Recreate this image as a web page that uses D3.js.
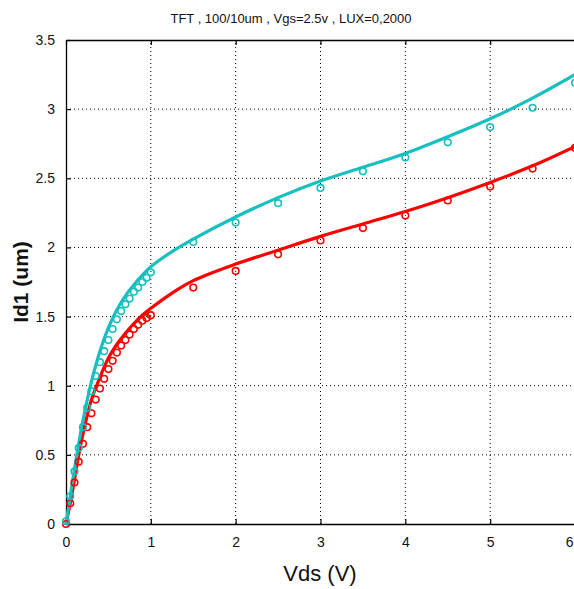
<!DOCTYPE html>
<html>
<head>
<meta charset="utf-8">
<script src="https://cdn.jsdelivr.net/npm/d3@7"></script>
<style>
  body { margin: 0; background: #fff; }
  text { font-family: "Liberation Sans", Arial, sans-serif; }
</style>
</head>
<body>
<div id="chart"></div>
<script>
// fitted curves (lines)
const lineVds = [0, 0.05, 0.1, 0.15, 0.2, 0.3, 0.4, 0.5, 0.6, 0.7, 0.8, 0.9, 1.0, 1.25, 1.5, 2, 2.5, 3, 3.5, 4, 4.5, 5, 5.5, 6];
const lineCyan = [0, 0.2, 0.4, 0.58, 0.75, 1.03, 1.25, 1.42, 1.55, 1.65, 1.73, 1.8, 1.86, 1.97, 2.06, 2.22, 2.36, 2.48, 2.58, 2.68, 2.8, 2.93, 3.08, 3.25];
const lineRed = [0, 0.15, 0.32, 0.5, 0.65, 0.9, 1.06, 1.2, 1.3, 1.38, 1.45, 1.51, 1.56, 1.67, 1.76, 1.88, 1.98, 2.08, 2.17, 2.26, 2.36, 2.47, 2.59, 2.73];

// measured points (markers)
const markVds = [0, 0.05, 0.1, 0.15, 0.2, 0.25, 0.3, 0.35, 0.4, 0.45, 0.5, 0.55, 0.6, 0.65, 0.7, 0.75, 0.8, 0.85, 0.9, 0.95, 1.0,
  1.5, 2, 2.5, 3, 3.5, 4, 4.5, 5, 5.5, 6];
const markCyan = [0.02, 0.2, 0.38, 0.55, 0.7, 0.84, 0.96, 1.07, 1.17, 1.25, 1.33, 1.41, 1.48, 1.54, 1.59, 1.63, 1.68, 1.71, 1.75, 1.78, 1.82,
  2.04, 2.18, 2.32, 2.43, 2.55, 2.65, 2.76, 2.87, 3.01, 3.19];
const markRed = [0.0, 0.15, 0.3, 0.45, 0.58, 0.7, 0.8, 0.9, 0.98, 1.05, 1.12, 1.18, 1.24, 1.29, 1.33, 1.37, 1.41, 1.44, 1.47, 1.49, 1.51,
  1.71, 1.83, 1.95, 2.05, 2.14, 2.23, 2.34, 2.44, 2.57, 2.72];

const xTicks = [0, 1, 2, 3, 4, 5, 6];
const yTicks = [0, 0.5, 1, 1.5, 2, 2.5, 3, 3.5];

const width = 574, height = 589;
const cyan = '#17bfbf', red = '#ff0000';

const svg = d3.select('#chart').append('svg')
  .attr('width', width)
  .attr('height', height);

const x = d3.scaleLinear().domain([0, 6]).range([66, 575]);
const y = d3.scaleLinear().domain([0, 3.5]).range([524, 40]);

// grid
svg.append('g').selectAll('line').data(xTicks.slice(1, -1)).enter()
  .append('line')
  .attr('x1', d => x(d)).attr('x2', d => x(d))
  .attr('y1', y(0)).attr('y2', y(3.5))
  .attr('stroke', '#000').attr('stroke-width', 1)
  .attr('stroke-dasharray', '1,3');
svg.append('g').selectAll('line').data(yTicks.slice(1, -1)).enter()
  .append('line')
  .attr('x1', x(0)).attr('x2', x(6))
  .attr('y1', d => y(d)).attr('y2', d => y(d))
  .attr('stroke', '#000').attr('stroke-width', 1)
  .attr('stroke-dasharray', '1,3');

// axes (ticks inward, matlab style)
const xAxis = svg.append('g')
  .attr('transform', `translate(0,${y(0)})`)
  .call(d3.axisBottom(x).tickValues(xTicks).tickSizeInner(-5).tickSizeOuter(0).tickPadding(13).tickFormat(d3.format('d')));
const xTop = svg.append('g')
  .attr('transform', `translate(0,${y(3.5)})`)
  .call(d3.axisTop(x).tickValues(xTicks).tickSizeInner(-5).tickSizeOuter(0).tickFormat(''));
const yAxis = svg.append('g')
  .attr('transform', `translate(${x(0)},0)`)
  .call(d3.axisLeft(y).tickValues(yTicks).tickSizeInner(-5).tickSizeOuter(0).tickPadding(11).tickFormat(d3.format('')));

[xAxis, xTop, yAxis].forEach(g => {
  g.select('.domain').attr('stroke', '#000').attr('stroke-width', 1.3);
  g.selectAll('.tick line').attr('stroke', '#000').attr('stroke-width', 1.2);
  g.selectAll('.tick text').attr('fill', '#111').style('font-size', '14px');
});
// last x label sits at the clipped right edge
xAxis.selectAll('.tick text').filter(d => d === 6).attr('text-anchor', 'end').attr('dx', -2);

// curves
const lineGen = d3.line()
  .x(d => x(d[0]))
  .y(d => y(d[1]))
  .curve(d3.curveCatmullRom);

const series = [
  { line: lineRed, mark: markRed, color: red },
  { line: lineCyan, mark: markCyan, color: cyan },
];

series.forEach(s => {
  svg.append('path')
    .datum(lineVds.map((v, i) => [v, s.line[i]]))
    .attr('d', lineGen)
    .attr('fill', 'none')
    .attr('stroke', s.color)
    .attr('stroke-width', 3.2);
});

series.forEach(s => {
  svg.append('g').selectAll('circle')
    .data(markVds.map((v, i) => [v, s.mark[i]]))
    .enter()
    .append('circle')
    .attr('cx', d => x(d[0]))
    .attr('cy', d => y(d[1]))
    .attr('r', 3.3)
    .attr('fill', 'none')
    .attr('stroke', s.color)
    .attr('stroke-width', 1.6);
});

// labels
svg.append('text')
  .attr('x', 291).attr('y', 23)
  .attr('text-anchor', 'middle')
  .style('font-size', '13px')
  .attr('fill', '#111')
  .text('TFT , 100/10um , Vgs=2.5v , LUX=0,2000');

svg.append('text')
  .attr('x', 320).attr('y', 581)
  .attr('text-anchor', 'middle')
  .style('font-size', '22px')
  .attr('fill', '#111')
  .text('Vds (V)');

svg.append('text')
  .attr('transform', `translate(28,${(y(0) + y(3.5)) / 2}) rotate(-90)`)
  .attr('text-anchor', 'middle')
  .style('font-size', '21px')
  .style('font-weight', 'bold')
  .attr('fill', '#111')
  .text('Id1 (um)');
</script>
</body>
</html>
